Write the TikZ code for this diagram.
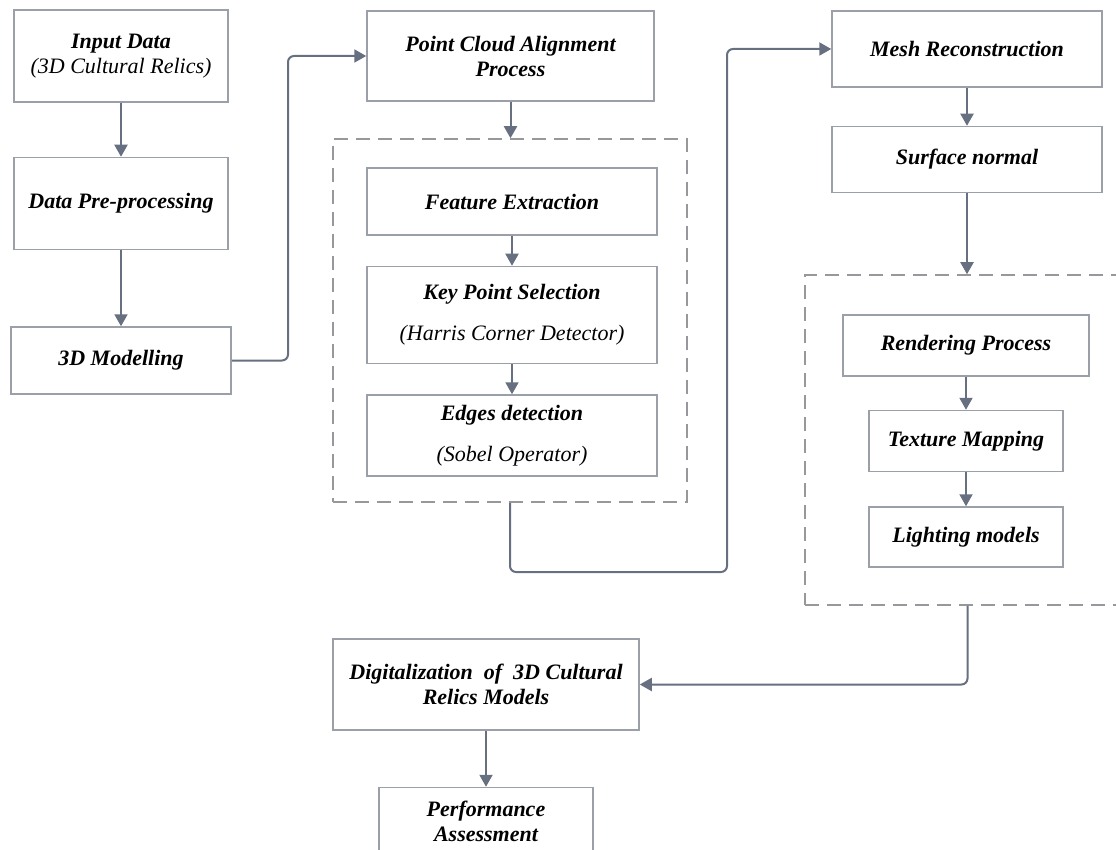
\documentclass[tikz,border=0pt]{standalone}
\usepackage{fontspec}
\setmainfont{Liberation Serif}
\usetikzlibrary{positioning,fit,arrows.meta}
\definecolor{linkgray}{RGB}{102,112,128}
\definecolor{boxgray}{RGB}{155,160,168}
\definecolor{dashgray}{RGB}{150,152,156}
\tikzset{
  block/.style={draw=boxgray, line width=1.5pt, fill=white, align=center, inner sep=0pt,
    font=\fontsize{22}{25}\selectfont\bfseries\itshape},
  group/.style={draw=dashgray, line width=1.5pt, dash pattern=on 14pt off 8pt, inner sep=0pt},
  link/.style={draw=linkgray, line width=2pt, rounded corners=6pt,
    -{Triangle[length=12pt,width=13pt]}},
}

\begin{document}
\begin{tikzpicture}[x=1pt,y=-1pt]
   \useasboundingbox (0,0) rectangle (1116,850);
   \clip (0,0) rectangle (1116,850);

   \node[block, minimum width=214pt, minimum height=92pt] (inp) at (121,56)
      {Input Data\\{\mdseries (3D Cultural Relics)}};
   \node[block, minimum width=214pt, minimum height=92pt, below=54pt of inp] (pre)
      {Data Pre-processing};
   \node[block, minimum width=220pt, minimum height=67pt, below=76pt of pre] (mod)
      {3D Modelling};

   \node[block, minimum width=287pt, minimum height=90pt] (pca) at (510.5,56)
      {Point Cloud Alignment\\Process};
   \node[block, minimum width=290pt, minimum height=67pt] (fex) at (512,201.5)
      {Feature Extraction};
   \node[block, minimum width=290pt, minimum height=97pt, below=30pt of fex] (kps)
      {Key Point Selection\\[16pt]{\mdseries (Harris Corner Detector)}};
   \node[block, minimum width=290pt, minimum height=81pt, below=30pt of kps] (edg)
      {Edges detection\\[16pt]{\mdseries (Sobel Operator)}};
   \node[group, fit={(333,139) (687,502)}] (grpA) {};

   \node[block, minimum width=270pt, minimum height=76pt] (mesh) at (967,49)
      {Mesh Reconstruction};
   \node[block, minimum width=270pt, minimum height=66pt, below=38pt of mesh] (sur)
      {Surface normal};
   \node[block, minimum width=246pt, minimum height=61pt] (ren) at (966,345.5)
      {Rendering Process};
   \node[block, minimum width=194pt, minimum height=61pt, below=33pt of ren] (tex)
      {Texture Mapping};
   \node[block, minimum width=194pt, minimum height=60pt, below=34pt of tex] (lig)
      {Lighting models};
   \node[group, fit={(805,275) (1130,605)}] (grpB) {};

   \node[block, minimum width=306pt, minimum height=91pt] (dig) at (486,684.5)
      {Digitalization~~of~~3D Cultural\\Relics Models};
   \node[block, minimum width=214pt, minimum height=68pt, below=56pt of dig] (per)
      {Performance\\Assessment};

   \coordinate (railA) at (288,0);
   \coordinate (railB) at (727,572);

   \draw[link] (inp) -- (pre);
   \draw[link] (pre) -- (mod);
   \draw[link] (mod.east) -- (mod.east -| railA) |- (pca.west);
   \draw[link] (pca.south) -- (pca.south |- grpA.north);
   \draw[link] (fex) -- (kps);
   \draw[link] (kps) -- (edg);
   \draw[link] (grpA.south) |- (railB) |- (mesh.west);
   \draw[link] (mesh) -- (sur);
   \draw[link] (sur.south) -- (sur.south |- grpB.north);
   \draw[link] (ren) -- (tex);
   \draw[link] (tex) -- (lig);
   \draw[link] (grpB.south) |- (dig.east);
   \draw[link] (dig.south) -- (dig.south |- per.north);
\end{tikzpicture}
\end{document}
